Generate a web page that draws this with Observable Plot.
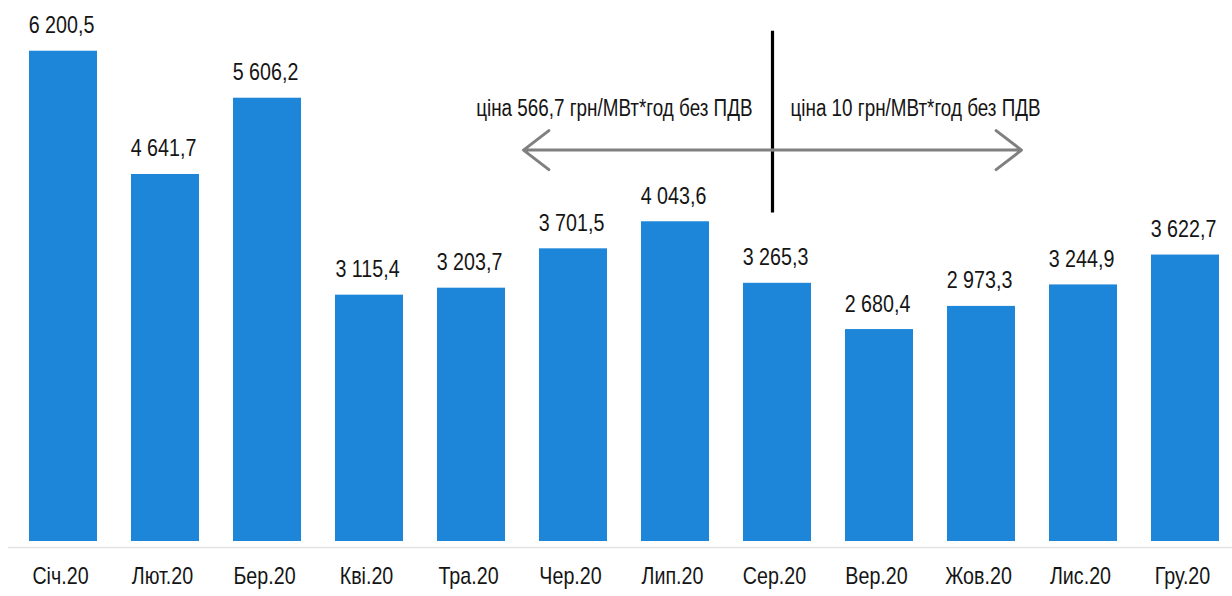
<!DOCTYPE html>
<html>
<head>
<meta charset="utf-8">
<script src="https://cdn.jsdelivr.net/npm/d3@7"></script>
<script src="https://cdn.jsdelivr.net/npm/@observablehq/plot@0.6"></script>
<style>
  html, body { margin: 0; padding: 0; background: #ffffff; }
  #chart svg { display: block; }
</style>
</head>
<body>
<div id="chart"></div>
<script>
// ---- data ----
const months = ["Січ.20", "Лют.20", "Бер.20", "Кві.20", "Тра.20", "Чер.20", "Лип.20", "Сер.20", "Вер.20", "Жов.20", "Лис.20", "Гру.20"];
const values = [6200.5, 4641.7, 5606.2, 3115.4, 3203.7, 3701.5, 4043.6, 3265.3, 2680.4, 2973.3, 3244.9, 3622.7];

// annotation: price change divider
const dividerMonth = "Сер.20";
const dividerFrom = 4155;
const dividerTo = 6453;
const arrowLevel = 4950;
const arrowTargets = ["Чер.20", "Жов.20"];
const noteLevel = 5470;
const noteLeft = "ціна 566,7 грн/МВт*год без ПДВ";
const noteRight = "ціна 10 грн/МВт*год без ПДВ";

const data = months.map((m, i) => ({month: m, value: values[i]}));
const fmt = d3.formatLocale({decimal: ",", thousands: " ", grouping: [3], currency: ["", ""]}).format(",.1f");

const font = "'Liberation Sans', Arial, sans-serif";
const barColor = "#1e86d8";
const textColor = "#151515";

const chart = Plot.plot({
  width: 1232,
  height: 596,
  marginLeft: 8,
  marginRight: 0,
  marginTop: 0,
  marginBottom: 55,
  style: {fontFamily: font, background: "#ffffff"},
  x: {domain: months, paddingInner: 0.335, paddingOuter: 0.152, align: 0.613, label: null},
  y: {domain: [0, 6842], axis: null},
  marks: [
    Plot.ruleY([0], {stroke: "#e4e4e4", strokeWidth: 1.5, dy: 6}),
    Plot.barY(data, {x: "month", y: "value", fill: barColor}),
    Plot.text(data, {x: "month", y: "value", text: d => fmt(d.value), lineAnchor: "bottom", dy: -18, fontSize: 24, fill: textColor, dx: -2}),
    Plot.axisX({tickSize: 0, tickPadding: 25, fontSize: 24, fill: textColor, label: null, dx: -3}),
    Plot.ruleX([dividerMonth], {y1: dividerFrom, y2: dividerTo, stroke: "#000000", strokeWidth: 3.2, dx: -5}),
    Plot.arrow(arrowTargets, {x1: () => dividerMonth, x2: d => d, y1: arrowLevel, y2: arrowLevel, stroke: "#808080", strokeWidth: 3, headAngle: 75, headLength: 16, insetEnd: -45, dx: -5}),
    Plot.text([noteLeft], {x: () => dividerMonth, y: noteLevel, text: d => d, textAnchor: "end", dx: -25, fontSize: 23, fill: textColor, lineAnchor: "middle"}),
    Plot.text([noteRight], {x: () => dividerMonth, y: noteLevel, text: d => d, textAnchor: "start", dx: 13, fontSize: 23, fill: textColor, lineAnchor: "middle"})
  ]
});

// emulate a narrow face (Arial Narrow ≈ 82% of Arial width) by squeezing each text about its anchor
const squeeze = 0.82;
chart.querySelectorAll("text").forEach(t => {
  const tr = t.getAttribute("transform");
  if (tr) {
    t.setAttribute("transform", tr + ` scale(${squeeze},1)`);
  } else {
    const x = +(t.getAttribute("x") || 0);
    t.setAttribute("transform", `translate(${x},0) scale(${squeeze},1) translate(${-x},0)`);
  }
});
document.getElementById("chart").appendChild(chart);
</script>
</body>
</html>
